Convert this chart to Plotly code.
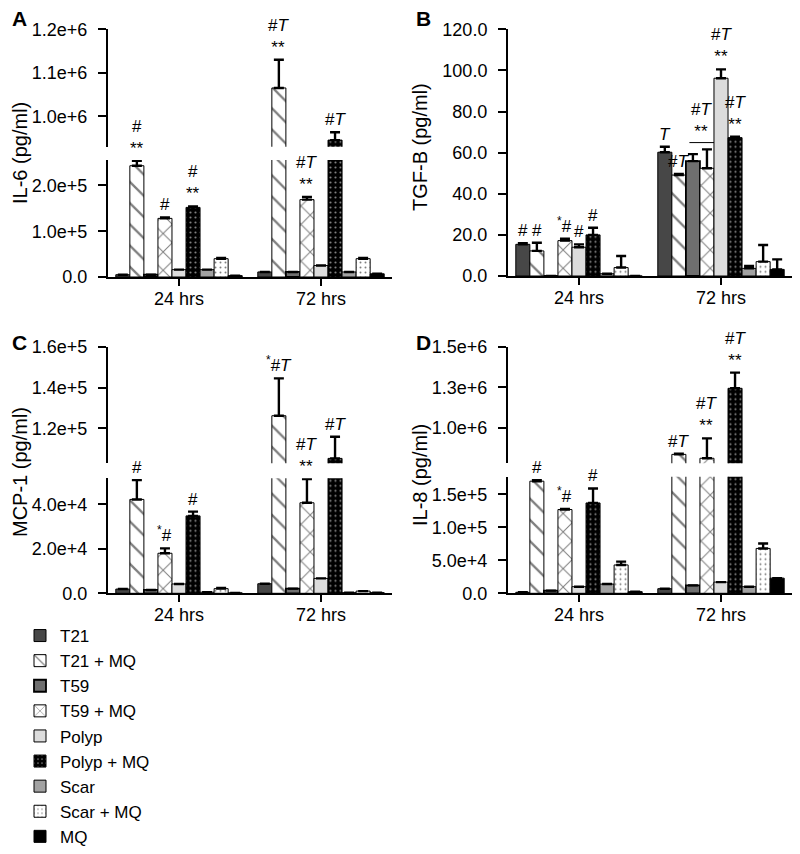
import plotly.graph_objects as go

# The page body has an 8px default margin, so the figure is drawn 8px in from the
# window corner; all pixel positions below are window positions, shifted by OFF.
WIN_W, WIN_H = 800, 854
OFF = 8
W, H = WIN_W - OFF, WIN_H - OFF

# ---------------- data ----------------
groups = ["24 hrs", "72 hrs"]
series = ["T21", "T21 + MQ", "T59", "T59 + MQ", "Polyp", "Polyp + MQ", "Scar", "Scar + MQ", "MQ"]

# A: IL-6 (pg/ml)
il6_24 = [5000, 243000, 5000, 128000, 16000, 152000, 16000, 40000, 3000]
il6_err_24 = [0, 11000, 0, 2000, 0, 2000, 0, 1500, 0]
il6_72 = [11000, 1065000, 11000, 169000, 25000, 945000, 11000, 40000, 7000]
il6_err_72 = [0, 65000, 0, 6000, 0, 18000, 0, 1500, 0]
il6_lab_24 = ["", "#<br>**", "", "#", "", "#<br>**", "", "", ""]
il6_lab_72 = ["", "#<i>T</i><br>**", "", "#<i>T</i><br>**", "", "#<i>T</i>", "", "", ""]
il6_ticks_low = [0, 100000, 200000]
il6_text_low = ["0.0", "1.0e+5", "2.0e+5"]
il6_ticks_up = [1000000, 1100000, 1200000]
il6_text_up = ["1.0e+6", "1.1e+6", "1.2e+6"]

# B: TGF-B (pg/ml)
tgf_24 = [15.4, 12.2, 0, 17.2, 14.0, 20.0, 1.1, 4.1, 0]
tgf_err_24 = [0.5, 4.0, 0, 1.0, 1.4, 3.5, 0, 5.6, 0]
tgf_72 = [60.2, 49.1, 55.9, 52.4, 96.2, 67.3, 3.7, 7.0, 3.2]
tgf_err_72 = [2.7, 0.5, 3.4, 9.2, 4.3, 0.5, 1.2, 8.1, 4.9]
tgf_lab_24 = ["#", "#", "", "<sup>*</sup>#", "#", "#", "", "", ""]
tgf_lab_72 = ["<i>T</i>", "#<i>T</i>", "", "", "#<i>T</i><br>**", "#<i>T</i><br>**", "", "", ""]
tgf_bracket = ["T59", "T59 + MQ"]
tgf_bracket_lab = "#<i>T</i><br>**"
tgf_ticks = [0, 20, 40, 60, 80, 100, 120]
tgf_text = ["0.0", "20.0", "40.0", "60.0", "80.0", "100.0", "120.0"]

# C: MCP-1 (pg/ml)
mcp_24 = [1900, 42200, 1500, 18000, 4200, 34800, 500, 2100, 200]
mcp_err_24 = [0, 8700, 0, 2200, 0, 1900, 0, 300, 0]
mcp_72 = [4300, 126200, 2100, 40700, 6700, 105300, 300, 1000, 300]
mcp_err_72 = [0, 18300, 0, 10700, 0, 10600, 0, 0, 0]
mcp_lab_24 = ["", "#", "", "<sup>*</sup>#", "", "#", "", "", ""]
mcp_lab_72 = ["", "<sup>*</sup>#<i>T</i>", "", "#<i>T</i><br>**", "", "#<i>T</i>", "", "", ""]
mcp_ticks_low = [0, 20000, 40000]
mcp_text_low = ["0.0", "2.0e+4", "4.0e+4"]
mcp_ticks_up = [120000, 140000, 160000]
mcp_text_up = ["1.2e+5", "1.4e+5", "1.6e+5"]

# D: IL-8 (pg/ml)
il8_24 = [1500, 170000, 4000, 127000, 10000, 137000, 14000, 43000, 2500]
il8_err_24 = [0, 1500, 0, 1000, 0, 22000, 0, 5000, 0]
il8_72 = [7000, 835000, 12000, 811000, 17000, 1243000, 10000, 68000, 23000]
il8_err_72 = [0, 5000, 0, 123000, 0, 97000, 0, 7600, 0]
il8_lab_24 = ["", "#", "", "<sup>*</sup>#", "", "#", "", "", ""]
il8_lab_72 = ["", "#<i>T</i>", "", "#<i>T</i><br>**", "", "#<i>T</i><br>**", "", "", ""]
il8_ticks_low = [0, 50000, 100000, 150000]
il8_text_low = ["0.0", "5.0e+4", "1.0e+5", "1.5e+5"]
il8_ticks_up = [1000000, 1250000, 1500000]
il8_text_up = ["1.0e+6", "1.3e+6", "1.5e+6"]

# ---------------- styles ----------------
FONT = "Liberation Sans, Arial, sans-serif"
TICK_SIZE = 18
styles = {
    "T21": dict(color="#474747"),
    "T21 + MQ": dict(color="white", pattern=dict(shape="\\", fgcolor="black", bgcolor="white", size=15, solidity=0.15)),
    "T59": dict(color="#6f6f6f"),
    "T59 + MQ": dict(color="white", pattern=dict(shape="x", fgcolor="black", bgcolor="white", size=13, solidity=0.15)),
    "Polyp": dict(color="#dcdcdc"),
    "Polyp + MQ": dict(color="black", pattern=dict(shape=".", fgcolor="white", bgcolor="black", size=5, solidity=0.15)),
    "Scar": dict(color="#a2a2a2"),
    "Scar + MQ": dict(color="white", pattern=dict(shape=".", fgcolor="black", bgcolor="white", size=5, solidity=0.12)),
    "MQ": dict(color="black"),
}
line_w = {"T59": 1.8}

BARGAP = 0.11
SLOT = (1 - BARGAP) / len(series)


def px2y(px):
    return 1 - (px - OFF) / H


def px2x(px):
    return (px - OFF) / W


panels = [
    dict(letter="A", title="IL-6 (pg/ml)", v=[il6_24, il6_72], e=[il6_err_24, il6_err_72],
         lab=[il6_lab_24, il6_lab_72], xdom=(108, 392),
         low=dict(ax=("x", "y"), dom=(160, 277), rng=[0, 255500], tv=il6_ticks_low, tt=il6_text_low),
         up=dict(ax=("x2", "y2"), dom=(29.3, 146.7), rng=[929800, 1200000], tv=il6_ticks_up, tt=il6_text_up),
         title_pos=(20, 153), letter_pos=(19, 19)),
    dict(letter="B", title="TGF-B (pg/ml)", v=[tgf_24, tgf_72], e=[tgf_err_24, tgf_err_72],
         lab=[tgf_lab_24, tgf_lab_72], xdom=(508, 792),
         low=dict(ax=("x3", "y3"), dom=(29.3, 276), rng=[0, 120], tv=tgf_ticks, tt=tgf_text),
         up=None, title_pos=(420, 147), letter_pos=(423, 19)),
    dict(letter="C", title="MCP-1 (pg/ml)", v=[mcp_24, mcp_72], e=[mcp_err_24, mcp_err_72],
         lab=[mcp_lab_24, mcp_lab_72], xdom=(108, 392),
         low=dict(ax=("x4", "y4"), dom=(478.3, 593.3), rng=[0, 51700], tv=mcp_ticks_low, tt=mcp_text_low),
         up=dict(ax=("x5", "y5"), dom=(346.7, 463.3), rng=[102900, 160000], tv=mcp_ticks_up, tt=mcp_text_up),
         title_pos=(20, 472), letter_pos=(19, 342)),
    dict(letter="D", title="IL-8 (pg/ml)", v=[il8_24, il8_72], e=[il8_err_24, il8_err_72],
         lab=[il8_lab_24, il8_lab_72], xdom=(508, 792),
         low=dict(ax=("x6", "y6"), dom=(476.7, 593.3), rng=[0, 176800], tv=il8_ticks_low, tt=il8_text_low),
         up=dict(ax=("x7", "y7"), dom=(346.7, 463.3), rng=[780000, 1500000], tv=il8_ticks_up, tt=il8_text_up),
         title_pos=(420, 475), letter_pos=(423, 342)),
]

fig = go.Figure()
layout = {}
annotations = []
shapes = []

for pi, p in enumerate(panels):
    segs = [p["low"]] + ([p["up"]] if p["up"] else [])
    for si, seg in enumerate(segs):
        xa, ya = seg["ax"]
        for i, s in enumerate(series):
            fig.add_trace(go.Bar(
                x=groups,
                y=[p["v"][0][i], p["v"][1][i]],
                error_y=dict(type="data", symmetric=False,
                             array=[p["e"][0][i], p["e"][1][i]], arrayminus=[0, 0],
                             color="black", thickness=2.4, width=5),
                name=s, legendgroup=s, showlegend=(pi == 0 and si == 0),
                marker=dict(line=dict(color="black", width=line_w.get(s, 1)), **styles[s]),
                xaxis=xa, yaxis=ya, hoverinfo="skip",
            ))
        xkey = "xaxis" + xa[1:]
        ykey = "yaxis" + ya[1:]
        xd = [px2x(p["xdom"][0]), px2x(p["xdom"][1])]
        yd = [px2y(seg["dom"][1]), px2y(seg["dom"][0])]
        if si == 0:
            layout[xkey] = dict(domain=xd, anchor=ya, type="category", range=[-0.5, 1.5],
                                showline=True, linewidth=2, linecolor="black",
                                ticks="outside", ticklen=7, tickwidth=2, tickcolor="black",
                                showgrid=False, zeroline=False, automargin=False,
                                ticklabelstandoff=-3,
                                tickfont=dict(family=FONT, size=TICK_SIZE, color="black"))
        else:
            layout[xkey] = dict(domain=xd, anchor=ya, matches=p["low"]["ax"][0], visible=False,
                                type="category", range=[-0.5, 1.5])
        layout[ykey] = dict(domain=yd, anchor=xa, range=seg["rng"], showline=True, linewidth=2,
                            linecolor="black", ticks="outside", ticklen=8, tickwidth=2,
                            tickcolor="black", showgrid=False, zeroline=False, automargin=False,
                            tickvals=seg["tv"], ticktext=seg["tt"], ticklabelstandoff=7,
                            tickfont=dict(family=FONT, size=TICK_SIZE, color="black"))

    # significance labels
    for gi in range(2):
        for i, t in enumerate(p["lab"][gi]):
            if not t:
                continue
            top = p["v"][gi][i] + p["e"][gi][i]
            seg = p["low"]
            if p["up"] and top > p["low"]["rng"][1]:
                seg = p["up"]
            annotations.append(dict(
                x=gi + (i - (len(series) - 1) / 2) * SLOT, y=top,
                xref=p["low"]["ax"][0], yref=seg["ax"][1],
                text=t, showarrow=False, yanchor="bottom", yshift=1,
                font=dict(family=FONT, size=17, color="black")))

    # axis title and panel letter
    annotations.append(dict(x=px2x(p["title_pos"][0]), y=px2y(p["title_pos"][1]), xref="paper",
                            yref="paper", text=p["title"], textangle=-90, showarrow=False,
                            xanchor="center", yanchor="middle",
                            font=dict(family=FONT, size=20, color="black")))
    annotations.append(dict(x=px2x(p["letter_pos"][0]), y=px2y(p["letter_pos"][1]), xref="paper",
                            yref="paper", text="<b>%s</b>" % p["letter"], showarrow=False,
                            xanchor="center", yanchor="middle",
                            font=dict(family=FONT, size=21, color="black")))

# bracket in panel B (72 hrs, T59 vs T59 + MQ)
pB = panels[1]
b_idx = [series.index(s) for s in tgf_bracket]
b_top = max(pB["v"][1][k] + pB["e"][1][k] for k in b_idx)
b_y = b_top + 3.3
c = (len(series) - 1) / 2
bx0 = 1 + (b_idx[0] - c) * SLOT - 0.25 * SLOT
bx1 = 1 + (b_idx[1] - c) * SLOT + 0.5 * SLOT
shapes.append(dict(type="line", xref="x3", yref="y3", x0=bx0, x1=bx1, y0=b_y, y1=b_y,
                   line=dict(color="black", width=1)))
annotations.append(dict(x=(bx0 + bx1) / 2, y=b_y, xref="x3", yref="y3", text=tgf_bracket_lab,
                        showarrow=False, yanchor="bottom", yshift=0,
                        font=dict(family=FONT, size=17, color="black")))

fig.update_layout(
    width=W, height=H, margin=dict(l=0, r=0, t=0, b=0, pad=0, autoexpand=False),
    paper_bgcolor="white", plot_bgcolor="white",
    barmode="group", bargap=BARGAP, bargroupgap=0,
    annotations=annotations, shapes=shapes,
    legend=dict(x=px2x(20), y=0, xanchor="left", yanchor="bottom",
                font=dict(family=FONT, size=17, color="black"), tracegroupgap=0,
                bgcolor="rgba(0,0,0,0)"),
    font=dict(family=FONT, color="black"),
    **layout,
)

fig.write_html("out.html")
